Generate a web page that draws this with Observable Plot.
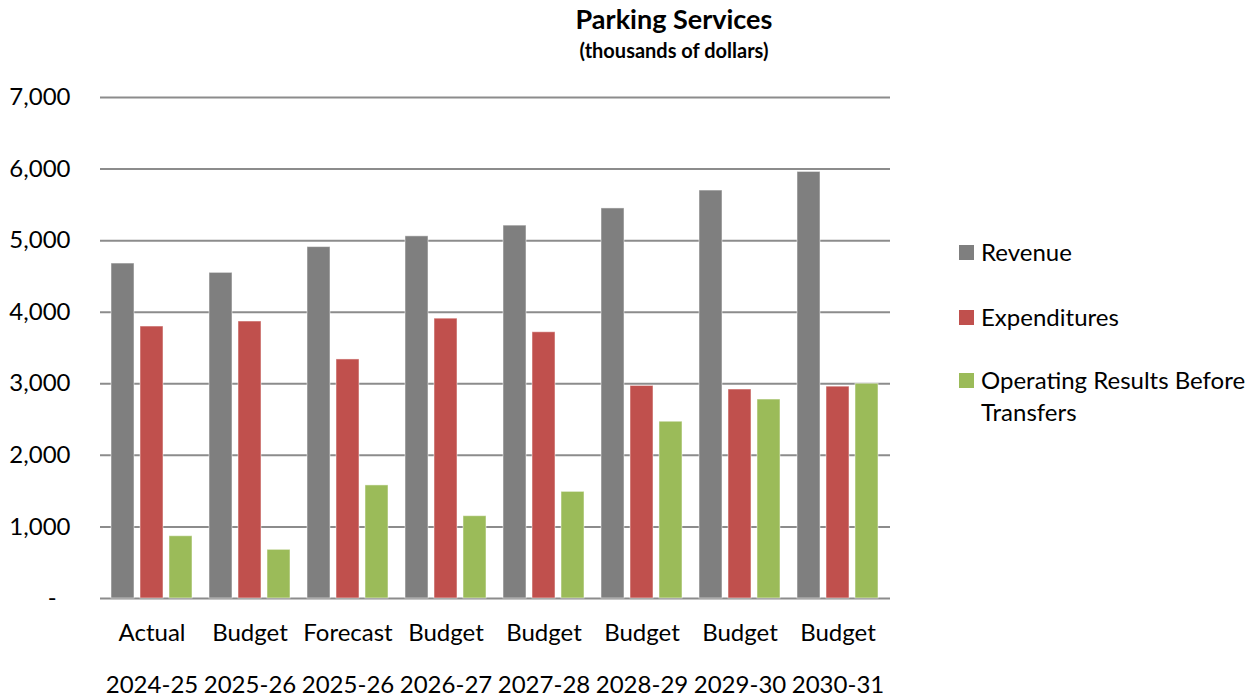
<!DOCTYPE html>
<html><head><meta charset="utf-8">
<script src="https://cdn.jsdelivr.net/npm/d3@7"></script>
<script src="https://cdn.jsdelivr.net/npm/@observablehq/plot@0.6"></script>
<style>
html,body{margin:0;padding:0;background:#fff;overflow:hidden}
#wrap{position:relative;width:1258px;height:698px;font-family:Lato,sans-serif;color:#000}
#chart{position:absolute;left:0;top:0}
#title{position:absolute;left:474px;width:400px;top:1px;text-align:center;font-weight:bold;font-size:27px;line-height:36px}
#subtitle{position:absolute;left:474px;width:400px;top:37px;text-align:center;font-weight:bold;font-size:20px;line-height:26px}
.li{position:absolute;left:959px;font-size:24px;line-height:32px}
.sw{position:absolute;left:0;width:15px;height:15px}
.lt{position:absolute;left:22px;white-space:nowrap}
</style></head>
<body><div id="wrap">
<div id="title">Parking Services</div>
<div id="subtitle">(thousands of dollars)</div>
<div id="chart"></div>
</div>
<script>
const periodTypes = ["Actual","Budget","Forecast","Budget","Budget","Budget","Budget","Budget"];
const fiscalYears = ["2024-25","2025-26","2025-26","2026-27","2027-28","2028-29","2029-30","2030-31"];
const revenue      = [4680, 4550, 4910, 5060, 5210, 5450, 5700, 5960];
const expenditures = [3800, 3870, 3340, 3910, 3720, 2970, 2920, 2960];
const operatingResults = [870, 680, 1580, 1150, 1490, 2470, 2780, 3000];
const seriesNames = ["Revenue","Expenditures","Operating Results Before Transfers"];
const seriesColors = ["#7f7f7f","#c0504d","#9bbb59"];
const yTicks = [0,1000,2000,3000,4000,5000,6000,7000];

const categories = periodTypes.map((t,i)=>t+" "+fiscalYears[i]);
const rows = categories.map((c,i)=>({category:c, type:periodTypes[i], year:fiscalYears[i],
  revenue:revenue[i], expenditures:expenditures[i], operating:operatingResults[i]}));
const byCat = new Map(rows.map(r=>[r.category, r]));

const fmt = d3.format(",");
const barStyle = {stroke:"#ffffff", strokeOpacity:0.5, strokeWidth:1};
const chart = Plot.plot({
  width: 900, height: 698,
  marginTop: 97, marginBottom: 100, marginLeft: 100, marginRight: 10,
  x: {domain: categories, paddingInner: 0.17, paddingOuter: 0.085},
  y: {domain: [0,7000]},
  style: {fontFamily: "Lato, sans-serif", fontSize: "24px", color: "#000", background: "transparent"},
  marks: [
    Plot.ruleY(yTicks, {stroke:"#8c8c8c", strokeWidth:2}),
    Plot.barY(rows, {x:"category", y:"revenue", fill:seriesColors[0], insetLeft:0, insetRight:58, ...barStyle}),
    Plot.barY(rows, {x:"category", y:"expenditures", fill:seriesColors[1], insetLeft:29, insetRight:29, ...barStyle}),
    Plot.barY(rows, {x:"category", y:"operating", fill:seriesColors[2], insetLeft:58, insetRight:0, ...barStyle}),
    Plot.axisY({ticks: yTicks, tickSize:0, tickPadding:30, fontSize:24,
      tickFormat: d => d === 0 ? "-\u2007" : fmt(d), label:null}),
    Plot.axisX({tickSize:0, tickPadding:25, fontSize:24, label:null,
      tickFormat: d => byCat.get(d).type}),
    Plot.axisX({tickSize:0, tickPadding:77, fontSize:24, label:null,
      tickFormat: d => byCat.get(d).year})
  ]
});
document.getElementById("chart").appendChild(chart);

const legendTops = [245, 310, 373];
const wrap = document.getElementById("wrap");
seriesNames.forEach((name,i)=>{
  const item = document.createElement("div");
  item.className = "li";
  item.style.top = (legendTops[i]) + "px";
  const sw = document.createElement("div");
  sw.className = "sw"; sw.style.background = seriesColors[i]; sw.style.top = "0px";
  const lt = document.createElement("div");
  lt.className = "lt"; lt.style.top = "-9px";
  lt.innerHTML = name === "Operating Results Before Transfers" ? "Operating Results Before<br>Transfers" : name;
  item.appendChild(sw); item.appendChild(lt);
  wrap.appendChild(item);
});
</script>
</body></html>
